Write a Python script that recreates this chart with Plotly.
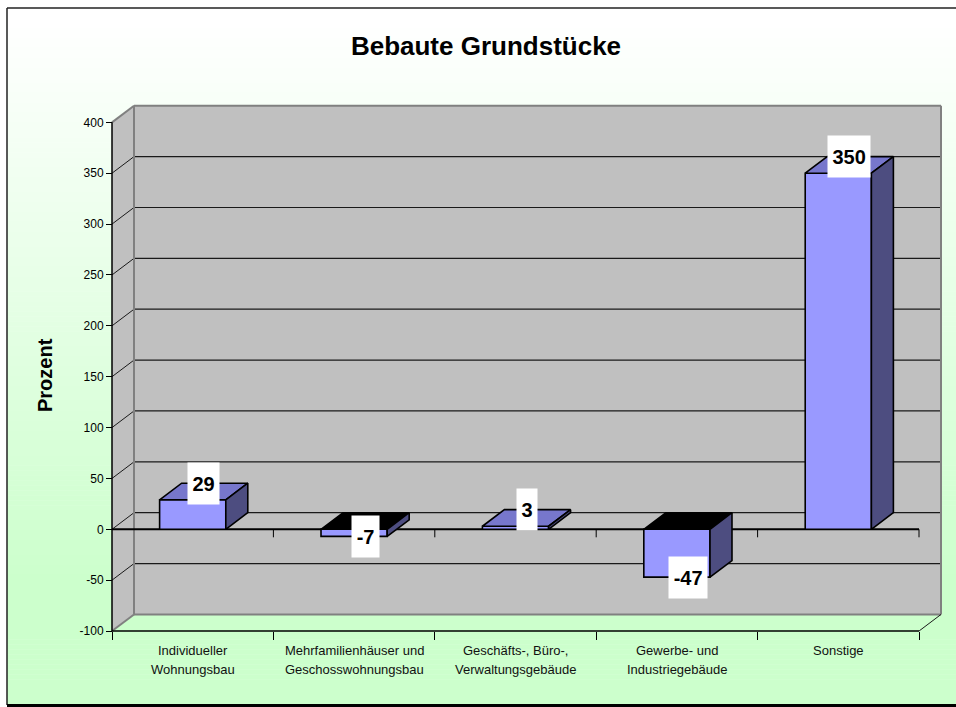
import plotly.graph_objects as go

# ---- data ----
categories = [
    "Individueller<br>Wohnungsbau",
    "Mehrfamilienhäuser und<br>Geschosswohnungsbau",
    "Geschäfts-, Büro-,<br>Verwaltungsgebäude",
    "Gewerbe- und<br>Industriegebäude",
    "Sonstige",
]
values = [29, -7, 3, -47, 350]
y_ticks = [-100, -50, 0, 50, 100, 150, 200, 250, 300, 350, 400]
y_tick_labels = ["-100", "-50", "0", "50", "100", "150", "200", "250", "300", "350", "400"]

title_text = "Bebaute Grundstücke"
y_title = "Prozent"

# ---- geometry (pixels) ----
W, H = 956, 707
X0, XS = 112.0, 161.4          # pixel of category origin, pixels per category
Y0, YS = 529.3, 1.0174         # pixel of value 0, pixels per unit
DXP, DYP = 22.0, 16.6          # 3D depth offset in pixels
PL, PR, PT, PB = 100, 948, 96, 645   # plot area in pixels

DX = DXP / XS                  # depth in category units
DY = DYP / YS                  # depth in value units
N = len(values)
YMIN, YMAX = y_ticks[0], y_ticks[-1]
BAR_W = 0.41

x_range = [(PL - X0) / XS, (PR - X0) / XS]
y_range = [(Y0 - PB) / YS, (Y0 - PT) / YS]


def px_x(px):
    return (px - PL) / (PR - PL)


def px_y(py):
    return (PB - py) / (PB - PT)


FONT = "Arial, 'Liberation Sans', sans-serif"
WALL = "#c0c0c0"
EDGE = "#808080"
FRONT = "#9999ff"
TOP = "#7777cc"
SIDE = "#4d4d80"

shapes = []

# background: white to pale green, top to bottom
bands = 140
y_top, y_bot = 8.0, 704.0
for i in range(bands):
    a = y_top + (y_bot - y_top) * i / bands
    b = y_top + (y_bot - y_top) * (i + 1) / bands
    t = min(1.0, max(0.0, ((a + b) / 2 - 20) / 560))
    r = round(255 - 51 * t)
    col = f"rgb({r},255,{r})"
    shapes.append(dict(type="rect", xref="paper", yref="paper",
                       x0=px_x(7), x1=px_x(957), y0=px_y(b + 0.5), y1=px_y(a),
                       fillcolor=col, line=dict(width=0), layer="below"))

# side wall and back wall
shapes.append(dict(type="path", xref="x", yref="y", layer="below",
                   path=f"M 0,{YMIN} L {DX},{YMIN + DY} L {DX},{YMAX + DY} L 0,{YMAX} Z",
                   fillcolor=WALL, line=dict(width=0)))
shapes.append(dict(type="rect", xref="x", yref="y", layer="below",
                   x0=DX, x1=N + DX, y0=YMIN + DY, y1=YMAX + DY,
                   fillcolor=WALL, line=dict(width=0)))


def seg(x0, y0, x1, y1, color="black", width=1.0, layer="below"):
    shapes.append(dict(type="line", xref="x", yref="y", layer=layer,
                       x0=x0, y0=y0, x1=x1, y1=y1,
                       line=dict(color=color, width=width)))


# gridlines on back wall and side wall
for v in y_ticks:
    if v in (YMIN, YMAX):
        continue
    seg(DX, v + DY, N + DX, v + DY, "#1a1a1a", 1.2)
    seg(0, v, DX, v + DY, "#1a1a1a", 1.0)

# wall edges
seg(DX, YMIN + DY, DX, YMAX + DY, EDGE, 2)
seg(N + DX, YMIN + DY, N + DX, YMAX + DY, EDGE, 2)
seg(DX, YMAX + DY, N + DX, YMAX + DY, EDGE, 2)
seg(DX, YMIN + DY, N + DX, YMIN + DY, EDGE, 2)
seg(0, YMAX, DX, YMAX + DY, EDGE, 2)
seg(0, YMIN, DX, YMIN + DY, EDGE, 2)
seg(N, YMIN, N + DX, YMIN + DY, "#1a1a1a", 1)

# value axis and category axes
seg(0, YMIN, 0, YMAX, "black", 1.5)
seg(0, YMIN, N, YMIN, "black", 1.5)
seg(0, 0, N, 0, "black", 2)
for k in range(1, N + 1):
    seg(k, 0, k, -8 / YS, "black", 1)

# outer frame
shapes.append(dict(type="line", xref="paper", yref="paper", layer="above",
                   x0=px_x(7), x1=px_x(960), y0=px_y(8), y1=px_y(8),
                   line=dict(color="#222", width=1.5)))
shapes.append(dict(type="line", xref="paper", yref="paper", layer="above",
                   x0=px_x(7), x1=px_x(7), y0=px_y(8), y1=px_y(705),
                   line=dict(color="#222", width=1.5)))
shapes.append(dict(type="line", xref="paper", yref="paper", layer="above",
                   x0=px_x(7), x1=px_x(960), y0=px_y(705.5), y1=px_y(705.5),
                   line=dict(color="black", width=3)))

fig = go.Figure()

centers = [i + 0.5 for i in range(N)]

# front faces of the columns
fig.add_trace(go.Bar(
    x=centers, y=values, width=BAR_W,
    marker=dict(color=FRONT, line=dict(color="black", width=1.6)),
    hoverinfo="skip", showlegend=False,
))

# top and side faces of the columns
for c, v in zip(centers, values):
    x0, x1 = c - BAR_W / 2, c + BAR_W / 2
    top_y = max(v, 0)
    top_col = TOP if v >= 0 else "black"
    fig.add_trace(go.Scatter(
        x=[x0, x1, x1 + DX, x0 + DX, x0],
        y=[top_y, top_y, top_y + DY, top_y + DY, top_y],
        fill="toself", fillcolor=top_col, mode="lines",
        line=dict(color="black", width=1.6),
        hoverinfo="skip", showlegend=False,
    ))
    fig.add_trace(go.Scatter(
        x=[x1, x1 + DX, x1 + DX, x1, x1],
        y=[0, DY, v + DY, v, 0],
        fill="toself", fillcolor=SIDE, mode="lines",
        line=dict(color="black", width=1.6),
        hoverinfo="skip", showlegend=False,
    ))

annotations = []

# value labels in white boxes
for c, v in zip(centers, values):
    txt = str(v)
    digits = sum(ch.isdigit() for ch in txt)
    minus = txt.count("-")
    annotations.append(dict(
        x=c + DX / 2, y=(v + DY) if v > 0 else v, xref="x", yref="y",
        text=f"<b>{txt}</b>", showarrow=False,
        font=dict(family=FONT, size=20, color="black"),
        bgcolor="white", borderpad=0,
        width=11.1 * digits + 7 * minus + 9, height=41,
        xanchor="center", yanchor="middle",
    ))

# category labels
for c, name in zip(centers, categories):
    for j, line in enumerate(name.split("<br>")):
        annotations.append(dict(
            x=c, y=YMIN, xref="x", yref="y", yshift=-19 - 19 * j,
            text=line, showarrow=False,
            font=dict(family=FONT, size=13, color="#111"),
            xanchor="center", yanchor="middle",
        ))

# value-axis title
annotations.append(dict(
    x=px_x(45), y=px_y(375), xref="paper", yref="paper",
    text=f"<b>{y_title}</b>", showarrow=False, textangle=-90,
    font=dict(family=FONT, size=20, color="black"),
    xanchor="center", yanchor="middle",
))

fig.update_layout(
    width=W, height=H, autosize=False,
    margin=dict(l=PL, r=W - PR, t=PT, b=H - PB, pad=0),
    paper_bgcolor="white", plot_bgcolor="rgba(0,0,0,0)",
    title=dict(text=f"<b>{title_text}</b>", xref="container", yref="container",
               x=486 / W, y=1 - 46 / H, xanchor="center", yanchor="middle",
               font=dict(family=FONT, size=26, color="black")),
    xaxis=dict(range=x_range, anchor="free", position=(PB - (Y0 - YMIN * YS)) / (PB - PT),
               showgrid=False, zeroline=False, showline=False,
               tickmode="array", tickvals=list(range(N + 1)), ticktext=[""] * (N + 1),
               ticks="outside", ticklen=8, tickwidth=1, tickcolor="black",
               fixedrange=True),
    yaxis=dict(range=y_range, anchor="free", position=(X0 - PL) / (PR - PL),
               showgrid=False, zeroline=False, showline=False,
               tickmode="array", tickvals=y_ticks, ticktext=y_tick_labels,
               ticks="outside", ticklen=6, tickwidth=1, tickcolor="black",
               tickfont=dict(family=FONT, size=12, color="black"),
               fixedrange=True),
    shapes=shapes,
    annotations=annotations,
    barmode="overlay",
    showlegend=False,
)

fig.write_html("out.html")
